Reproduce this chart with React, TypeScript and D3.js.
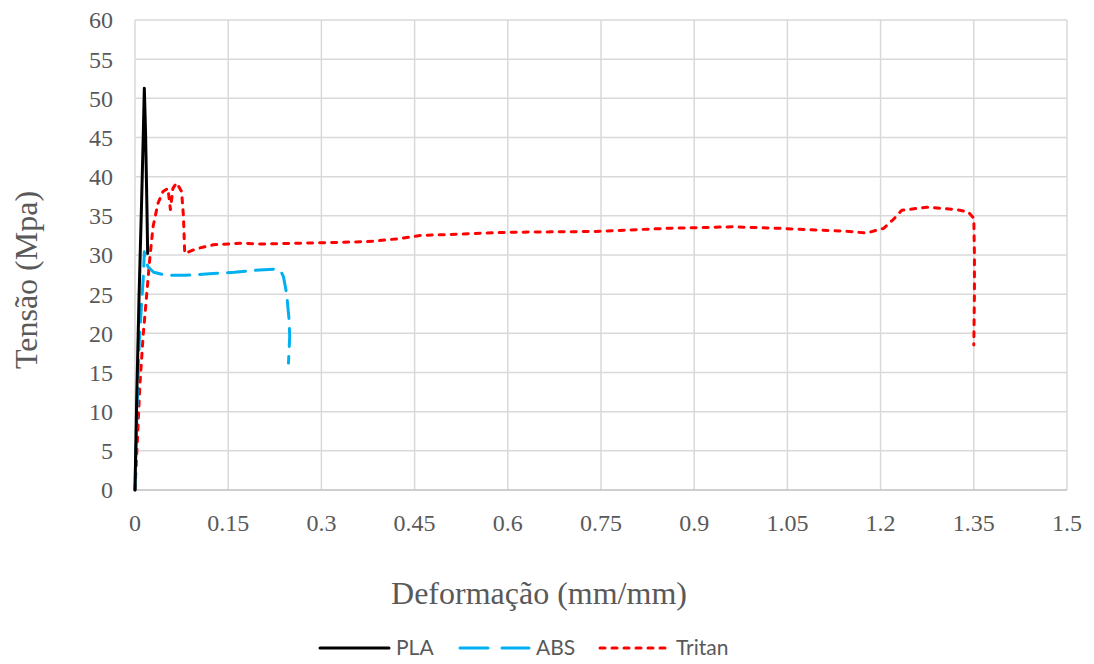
import { useEffect, useRef } from "react";
import * as d3 from "d3";

// strain (mm/mm), stress (MPa)
const plaStrain = [0, 0.0027, 0.0064, 0.0107, 0.0134, 0.015, 0.017, 0.019, 0.0204];
const plaStress = [0, 11.5, 24.3, 37, 45.6, 51.3, 45.6, 37, 30.2];

const absStrain = [
  0, 0.001, 0.0037, 0.007, 0.011, 0.0134, 0.015, 0.017, 0.021, 0.03, 0.05, 0.08,
  0.12, 0.16, 0.2, 0.225, 0.235, 0.239, 0.244, 0.248, 0.249, 0.247,
];
const absStress = [
  0, 3.8, 11.5, 19.2, 24.3, 27.2, 30.4, 29.3, 28.5, 27.8, 27.4, 27.4,
  27.6, 27.8, 28.1, 28.2, 27.9, 27.2, 25.1, 21.7, 19.6, 16.2,
];

const tritanStrain = [
  0, 0.0043, 0.008, 0.0134, 0.019, 0.024, 0.029, 0.037, 0.045, 0.053, 0.057,
  0.061, 0.067, 0.075, 0.078, 0.08, 0.099, 0.126, 0.169, 0.2, 0.266, 0.373,
  0.427, 0.459, 0.5, 0.599, 0.737, 0.856, 0.963, 1.038, 1.124, 1.15, 1.177,
  1.205, 1.22, 1.234, 1.274, 1.322, 1.341, 1.35, 1.351, 1.351, 1.35,
];
const tritanStress = [
  0, 7.2, 13.6, 20, 25.1, 29.7, 33.6, 36.6, 38.1, 38.5, 35.8,
  38.5, 39.2, 38.1, 34.9, 30.2, 30.8, 31.3, 31.5, 31.4, 31.5, 31.7,
  32.1, 32.5, 32.6, 32.9, 33.0, 33.4, 33.6, 33.4, 33.1, 33.0, 32.8,
  33.4, 34.5, 35.7, 36.1, 35.8, 35.5, 34.7, 30, 25, 18.5,
];

const xTicks = [0, 0.15, 0.3, 0.45, 0.6, 0.75, 0.9, 1.05, 1.2, 1.35, 1.5];
const yTicks = [0, 5, 10, 15, 20, 25, 30, 35, 40, 45, 50, 55, 60];

const seriesNames = ["PLA", "ABS", "Tritan"];

interface Pt {
  x: number;
  y: number;
}

const toPoints = (xs: number[], ys: number[]): Pt[] =>
  xs.map((x, i) => ({ x, y: ys[i] }));

export default function App() {
  const svgRef = useRef<SVGSVGElement>(null);

  useEffect(() => {
    document.body.style.margin = "0";
    if (!svgRef.current) return;
    const svg = d3.select(svgRef.current);
    svg.selectAll("*").remove();

    const margin = { top: 20, right: 27, bottom: 174, left: 135 };
    const W = 1094;
    const H = 664;
    const width = W - margin.left - margin.right;
    const height = H - margin.top - margin.bottom;

    const x = d3.scaleLinear().domain([0, 1.5]).range([0, width]);
    const y = d3.scaleLinear().domain([0, 60]).range([height, 0]);

    const g = svg
      .append("g")
      .attr("transform", `translate(${margin.left},${margin.top})`);

    const grid = "#d9d9d9";
    const textCol = "#595959";
    const serif = "'Liberation Serif', 'Times New Roman', serif";

    // horizontal grid
    g.append("g")
      .selectAll("line")
      .data(yTicks.slice(1))
      .join("line")
      .attr("x1", 0)
      .attr("x2", width)
      .attr("y1", (d) => y(d))
      .attr("y2", (d) => y(d))
      .attr("stroke", grid)
      .attr("stroke-width", 1.5);

    // vertical grid
    g.append("g")
      .selectAll("line")
      .data(xTicks)
      .join("line")
      .attr("x1", (d) => x(d))
      .attr("x2", (d) => x(d))
      .attr("y1", 0)
      .attr("y2", height)
      .attr("stroke", grid)
      .attr("stroke-width", 1.5);

    // bottom axis line
    g.append("line")
      .attr("x1", 0)
      .attr("x2", width)
      .attr("y1", height)
      .attr("y2", height)
      .attr("stroke", "#bfbfbf")
      .attr("stroke-width", 1.5);

    // y tick labels
    g.append("g")
      .selectAll("text")
      .data(yTicks)
      .join("text")
      .attr("x", -22)
      .attr("y", (d) => y(d))
      .attr("dy", "0.35em")
      .attr("text-anchor", "end")
      .attr("fill", textCol)
      .attr("font-family", serif)
      .attr("font-size", "24px")
      .text((d) => d3.format("d")(d));

    // x tick labels
    g.append("g")
      .selectAll("text")
      .data(xTicks)
      .join("text")
      .attr("x", (d) => x(d))
      .attr("y", height + 41)
      .attr("text-anchor", "middle")
      .attr("fill", textCol)
      .attr("font-family", serif)
      .attr("font-size", "24px")
      .text((d) => String(d));

    // axis titles
    svg
      .append("text")
      .attr("transform", `translate(37,280) rotate(-90)`)
      .attr("text-anchor", "middle")
      .attr("fill", textCol)
      .attr("font-family", serif)
      .attr("font-size", "32px")
      .text("Tensão (Mpa)");

    svg
      .append("text")
      .attr("x", 539)
      .attr("y", 604)
      .attr("text-anchor", "middle")
      .attr("fill", textCol)
      .attr("font-family", serif)
      .attr("font-size", "32px")
      .text("Deformação (mm/mm)");

    const line = d3
      .line<Pt>()
      .x((d) => x(d.x))
      .y((d) => y(d.y));

    const styles = [
      { color: "#000000", dash: null },
      { color: "#00b0f0", dash: "18,10" },
      { color: "#ff0000", dash: "5,7" },
    ];
    const data = [
      toPoints(plaStrain, plaStress),
      toPoints(absStrain, absStress),
      toPoints(tritanStrain, tritanStress),
    ];

    // draw tritan first, then abs, then pla on top
    [2, 1, 0].forEach((i) => {
      g.append("path")
        .datum(data[i])
        .attr("fill", "none")
        .attr("stroke", styles[i].color)
        .attr("stroke-width", 3)
        .attr("stroke-linecap", "round")
        .attr("stroke-linejoin", "round")
        .attr("stroke-dasharray", styles[i].dash)
        .attr("d", line);
    });

    // legend
    const legendX = [320, 460, 600];
    const leg = svg.append("g");
    seriesNames.forEach((name, i) => {
      leg
        .append("line")
        .attr("x1", legendX[i])
        .attr("x2", legendX[i] + 69)
        .attr("y1", 648)
        .attr("y2", 648)
        .attr("stroke", styles[i].color)
        .attr("stroke-width", 3)
        .attr("stroke-linecap", "round")
        .attr("stroke-dasharray", i === 1 ? "28,14" : styles[i].dash);
      leg
        .append("text")
        .attr("x", legendX[i] + 76)
        .attr("y", 655)
        .attr("fill", textCol)
        .attr("font-family", "Lato, 'Open Sans', sans-serif")
        .attr("font-size", "21px")
        .text(name);
    });
  }, []);

  return <svg ref={svgRef} width={1094} height={664} style={{ display: "block" }} />;
}
